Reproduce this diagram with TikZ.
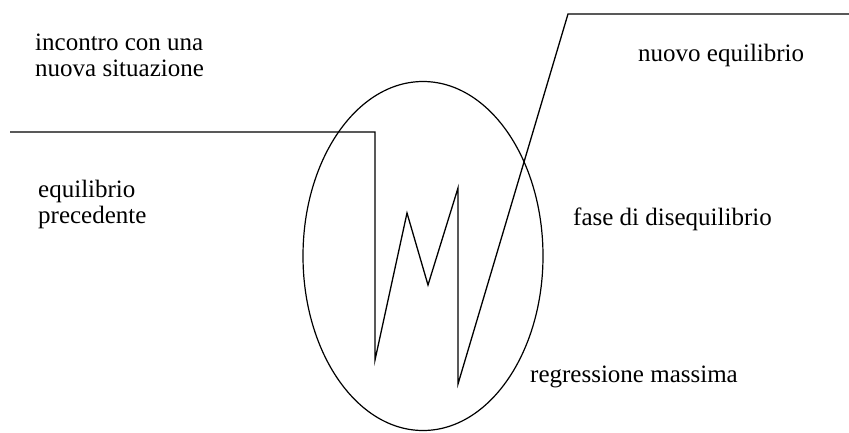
\documentclass[tikz,border=0pt]{standalone}
\usepackage{fontspec}
\setmainfont{Liberation Serif}
\usetikzlibrary{shapes.geometric}
\begin{document}
\begin{tikzpicture}[x=1pt,y=-1pt,
  lbl/.style={inner sep=0pt,anchor=base west,font={\fontsize{25}{26}\selectfont}},
  curve/.style={draw=black,line width=1.3pt,line join=miter}]
\useasboundingbox (0,0) rectangle (849,432);
\fill[white] (0,0) rectangle (849,432);
% ellipse
\node[draw=black,line width=1.2pt,ellipse,inner sep=0pt,minimum width=240pt,minimum height=349pt] (ell) at (423,256) {};
% zigzag path vertices
\coordinate (p0) at (10,132);
\coordinate (p1) at (375,132);
\coordinate (p2) at (375,360);
\coordinate (p3) at (407,213);
\coordinate (p4) at (428,285);
\coordinate (p5) at (458,188);
\coordinate (p6) at (458,384);
\coordinate (p7) at (568,14);
\coordinate (p8) at (849,14);
\draw[curve] (p0) -- (p1) -- (p2) -- (p3) -- (p4) -- (p5) -- (p6) -- (p7) -- (p8);
% labels
\node[lbl] (t1a) at (35,50) {incontro con una};
\node[lbl] (t1b) at (35,76) {nuova situazione};
\node[lbl] (t2a) at (38,197) {equilibrio};
\node[lbl] (t2b) at (38,223) {precedente};
\node[lbl] (t3) at (638,61) {nuovo equilibrio};
\node[lbl] (t4) at (573,225) {fase di disequilibrio};
\node[lbl] (t5) at (530,382) {regressione massima};
\end{tikzpicture}
\end{document}
